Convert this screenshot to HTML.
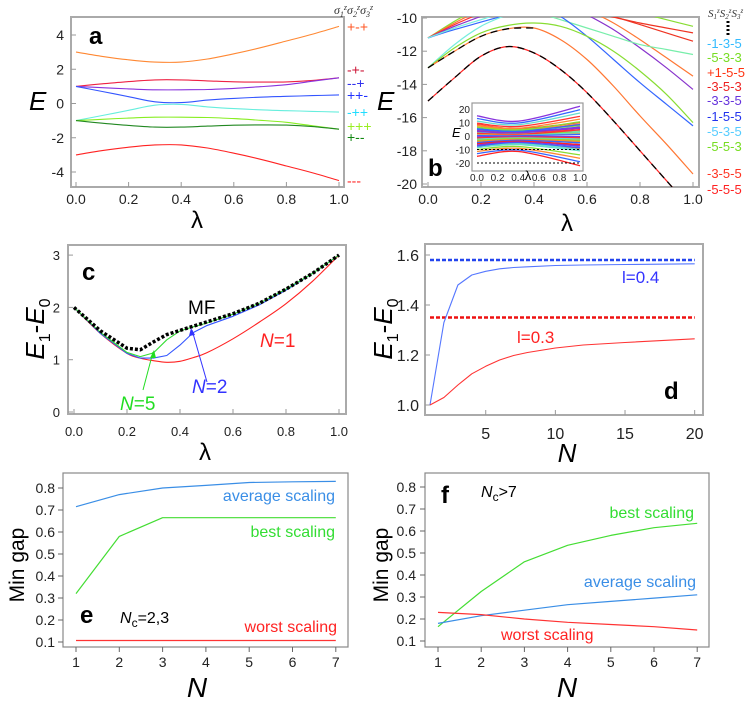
<!DOCTYPE html>
<html><head><meta charset="utf-8">
<style>
html,body{margin:0;padding:0;background:#fff;}
svg{display:block;font-family:"Liberation Sans",sans-serif;}
</style></head>
<body>
<svg id="fig" width="748" height="703" viewBox="0 0 748 703" xmlns="http://www.w3.org/2000/svg">
<defs>
<clipPath id="clipA"><rect x="71" y="17" width="273" height="170"/></clipPath>
<clipPath id="clipB"><rect x="422" y="17" width="277" height="170"/></clipPath>
<clipPath id="clipI"><rect x="472" y="103" width="111" height="68"/></clipPath>
<clipPath id="clipC"><rect x="68" y="245" width="278" height="169"/></clipPath>
<clipPath id="clipD"><rect x="425" y="244" width="278" height="171"/></clipPath>
</defs>
<rect x="71" y="17" width="273" height="170" fill="none" stroke="#aaa" stroke-width="2"/>
<rect x="422" y="17" width="277" height="170" fill="none" stroke="#aaa" stroke-width="2"/>
<rect x="68" y="245" width="278" height="169" fill="none" stroke="#aaa" stroke-width="2"/>
<rect x="425" y="244" width="278" height="171" fill="none" stroke="#aaa" stroke-width="2"/>
<rect x="63" y="473" width="285" height="174" fill="none" stroke="#888" stroke-width="1.2"/>
<rect x="425" y="473" width="284" height="174" fill="none" stroke="#888" stroke-width="1.2"/>
<g id="layer"></g>
<text x="89" y="44" font-size="24" font-weight="bold">a</text>
<text x="29" y="110" font-size="26" font-style="italic">E</text>
<text x="197" y="228" font-size="24" text-anchor="middle">λ</text>
<text x="334" y="14" font-size="12" font-family="Liberation Serif,serif" font-style="italic" fill="#333">σ<tspan font-size="8" dy="3">1</tspan><tspan font-size="8" dy="-7">z</tspan><tspan dy="4">σ</tspan><tspan font-size="8" dy="3">2</tspan><tspan font-size="8" dy="-7">z</tspan><tspan dy="4">σ</tspan><tspan font-size="8" dy="3">3</tspan><tspan font-size="8" dy="-7">z</tspan></text>
<text x="428" y="176" font-size="24" font-weight="bold">b</text>
<text x="377" y="110" font-size="26" font-style="italic">E</text>
<text x="567" y="231" font-size="24" text-anchor="middle">λ</text>
<text x="708" y="17" font-size="11" font-family="Liberation Serif,serif" font-style="italic" fill="#333">S<tspan font-size="7" dy="2">1</tspan><tspan font-size="7" dy="-6">z</tspan><tspan dy="4">S</tspan><tspan font-size="7" dy="2">2</tspan><tspan font-size="7" dy="-6">z</tspan><tspan dy="4">S</tspan><tspan font-size="7" dy="2">3</tspan><tspan font-size="7" dy="-6">z</tspan></text>
<line x1="728" y1="21" x2="728" y2="36" stroke="#000" stroke-width="3" stroke-dasharray="2,2"/>
<text x="452" y="137" font-size="13" font-style="italic">E</text>
<text x="528" y="180" font-size="13" text-anchor="middle">λ</text>
<text x="82" y="280" font-size="24" font-weight="bold">c</text>
<text transform="translate(44,329) rotate(-90)" font-size="26" text-anchor="middle"><tspan font-style="italic">E</tspan><tspan font-size="16" dy="6">1</tspan><tspan dy="-6">-</tspan><tspan font-style="italic">E</tspan><tspan font-size="16" dy="6">0</tspan></text>
<text x="205" y="460" font-size="24" text-anchor="middle">λ</text>
<text x="188" y="314" font-size="19">MF</text>
<text x="260" y="347" font-size="19" fill="#f22"><tspan font-style="italic">N</tspan>=1</text>
<text x="192" y="393" font-size="19" fill="#33f"><tspan font-style="italic">N</tspan>=2</text>
<text x="120" y="410" font-size="19" fill="#2d2"><tspan font-style="italic">N</tspan>=5</text>
<line x1="143" y1="390" x2="153" y2="352" stroke="#2d2" stroke-width="1"/>
<polygon points="154,350 150,358 156,358" fill="#2d2"/>
<line x1="207" y1="382" x2="192" y2="330" stroke="#33f" stroke-width="1"/>
<polygon points="191,328 189,336 195,335" fill="#33f"/>
<text x="664" y="399" font-size="24" font-weight="bold">d</text>
<text transform="translate(392,329) rotate(-90)" font-size="26" text-anchor="middle"><tspan font-style="italic">E</tspan><tspan font-size="16" dy="6">1</tspan><tspan dy="-6">-</tspan><tspan font-style="italic">E</tspan><tspan font-size="16" dy="6">0</tspan></text>
<text x="567" y="462" font-size="26" font-style="italic" text-anchor="middle">N</text>
<text x="622" y="283" font-size="17" fill="#33f">l=0.4</text>
<text x="517" y="343" font-size="17" fill="#f22">l=0.3</text>
<text x="80" y="623" font-size="24" font-weight="bold">e</text>
<text x="120" y="623" font-size="16"><tspan font-style="italic">N</tspan><tspan font-size="12" dy="4">c</tspan><tspan dy="-4">=2,3</tspan></text>
<text transform="translate(24,565) rotate(-90)" font-size="21" text-anchor="middle">Min gap</text>
<text x="197" y="697" font-size="28" font-style="italic" text-anchor="middle">N</text>
<text x="335" y="501" font-size="16" fill="#3a8ee6" text-anchor="end">average scaling</text>
<text x="335" y="537" font-size="16" fill="#3d3" text-anchor="end">best scaling</text>
<text x="337" y="632" font-size="16" fill="#f22" text-anchor="end">worst scaling</text>
<text x="441" y="503" font-size="24" font-weight="bold">f</text>
<text x="481" y="497" font-size="16"><tspan font-style="italic">N</tspan><tspan font-size="12" dy="4">c</tspan><tspan dy="-4">&gt;7</tspan></text>
<text transform="translate(388,565) rotate(-90)" font-size="21" text-anchor="middle">Min gap</text>
<text x="567" y="697" font-size="28" font-style="italic" text-anchor="middle">N</text>
<text x="694" y="518" font-size="16" fill="#3d3" text-anchor="end">best scaling</text>
<text x="696" y="587" font-size="16" fill="#3a8ee6" text-anchor="end">average scaling</text>
<text x="501" y="640" font-size="16" fill="#f22">worst scaling</text>
</svg>
<script>
const lamGrid = [0,0.1,0.2,0.3,0.4,0.5,0.6,0.7,0.8,0.9,1.0];
const aColors = ['#ff8833','#ee2244','#8833dd','#3355ff','#66eedd','#88ee22','#228822','#ff2222'];
const aOrange = [3,2.75,2.55,2.42,2.42,2.6,2.9,3.25,3.65,4.05,4.5];
const aRedTop = [1,1.15,1.28,1.38,1.38,1.32,1.27,1.25,1.26,1.35,1.5];
const aPurple = [1,0.92,0.85,0.8,0.8,0.82,0.88,0.98,1.1,1.3,1.5];
const aBlue = [1,0.7,0.4,0.1,0.05,0.2,0.3,0.37,0.42,0.46,0.5];
const aCyan = [-1,-0.7,-0.4,-0.1,-0.05,-0.2,-0.3,-0.37,-0.42,-0.46,-0.5];
const aLGreen = [-1,-0.92,-0.85,-0.8,-0.8,-0.82,-0.88,-0.98,-1.1,-1.3,-1.5];
const aDGreen = [-1,-1.15,-1.28,-1.38,-1.38,-1.32,-1.27,-1.25,-1.26,-1.35,-1.5];
const aRedBot = [-3,-2.75,-2.55,-2.42,-2.42,-2.6,-2.9,-3.25,-3.65,-4.05,-4.5];
const aSeries = [aOrange,aRedTop,aPurple,aBlue,aCyan,aLGreen,aDGreen,aRedBot];
const aLegend = ['+-+','-+-','--+','++-','-++','+++','+--','---'];
const aLegendColors = ['#ff5522','#cc1133','#3333ee','#2233ff','#22ddff','#99ee22','#118811','#ff2222'];
const aLegendE = [4.5,2,1.2,0.5,-0.5,-1.3,-1.95,-4.5];
const aYTicks = [4,2,0,-2,-4];
const aXTicks = [0,0.2,0.4,0.6,0.8,1.0];
const bGround = [-15,-13.6,-12.3,-11.72,-12.1,-13.1,-14.5,-16.2,-18.0,-19.8,-21.6];
const bSecond = [-13,-12.0,-11.1,-10.65,-10.6,-11.3,-12.5,-14.1,-15.9,-17.6,-19.4];
const bGreen = [-13,-11.8,-10.9,-10.45,-10.3,-10.5,-11.1,-12.0,-13.2,-14.6,-16.3];
const bCyanLow = [-13,-11.6,-10.5,-9.8,null,null,null,null,null,null,null];
const bFanCyan = [-11.2,-10.6,-10.1,-9.6,null,null,null,null,null,null,null];
const bFanBlue = [-11.2,-10.7,-10.25,-9.8,null,null,null,null,null,null,null];
const bFanPurple = [-11.2,-10.5,-9.9,null,null,null,null,null,null,null,null];
const bFanRed = [-11.2,-10.4,-9.7,null,null,null,null,null,null,null,null];
const bFanOrange = [-11.2,-10.3,-9.5,null,null,null,null,null,null,null,null];
const bFanGreen = [-11.2,-10.2,-9.3,null,null,null,null,null,null,null,null];
const bRBlue = [null,null,null,null,-9.0,-9.9,-11.1,-12.5,-13.9,-15.2,-16.5];
const bRCyan = [null,null,null,null,-9.6,-10.1,-10.6,-11.1,-11.6,-11.9,-12.2];
const bRPurple = [null,null,null,null,null,-9.0,-9.8,-10.7,-11.8,-13.0,-14.3];
const bROrange = [null,null,null,null,null,-8.8,-9.5,-10.3,-11.3,-12.4,-13.5];
const bRRed = [null,null,null,null,null,null,-9.6,-9.95,-10.3,-10.6,-10.9];
const bRRed2 = [null,null,null,null,null,null,-9.4,-9.9,-10.4,-10.9,-11.4];
const bRGreen = [null,null,null,null,null,null,null,-9.3,-9.7,-10.1,-10.5];
const bSeries = [bFanGreen,bFanOrange,bFanRed,bFanPurple,bFanBlue,bFanCyan,bCyanLow,bRGreen,bRRed,bRRed2,bROrange,bRPurple,bRCyan,bRBlue,bGreen,bSecond,bGround];
const bColors = ['#88dd33','#ff7733','#ff3333','#8833cc','#3366ff','#77eedd','#77eedd','#88dd33','#ee3322','#ee3322','#ff7733','#8833cc','#77eeaa','#3366ff','#88dd33','#ff7733','#ff2222'];
const bDashGround = [-15,-13.6,-12.3,-11.72,-12.1,-13.1,-14.5,-16.2,-18.0,-19.8,-21.6];
const bDashSecond = [-13,-12.0,-11.1,-10.65,-10.6,null,null,null,null,null,null];
const bLegend = ['-1-3-5','-5-3-3','+1-5-5','-3-5-3','-3-3-5','-1-5-5','-5-3-5','-5-5-3','-3-5-5','-5-5-5'];
const bLegendColors = ['#33bbff','#77dd22','#ff3311','#ee2222','#6633dd','#2233ee','#55ccff','#77dd22','#ff3322','#ff2222'];
const bLegendY = [43,57,72,86,100,116,131,146,173,189];
const bYTicks = [-10,-12,-14,-16,-18,-20];
const bXTicks = [0,0.2,0.4,0.6,0.8,1.0];
const insStart = [15,13,11,9.5,8,6.5,5,3.5,2,0.5,-1,-2.5,-4,-5.5,-7,-8.5,-10,-11.5,-13,-15];
const insMid = [11,9.6,8.3,7,5.8,4.6,3.4,2.3,1.2,0.3,-0.6,-1.7,-2.8,-4,-5.2,-6.4,-7.8,-9.1,-10.4,-11.5];
const insEnd = [22,19.5,17,14.5,12.5,10.5,8.5,6.5,4.5,2.5,-1,-3,-5,-7,-9,-11,-14,-16.5,-19,-22];
const insColors = ['#8833dd','#3366ff','#66ddcc','#ff3333','#ff8833','#88dd33','#3366ff','#8833dd','#ff3333','#66ddcc','#88dd33','#ff8833','#3366ff','#8833dd','#ff3333','#66ddcc','#88dd33','#ff8833','#3366ff','#ff2222'];
const insYTicks = [20,10,0,-10,-20];
const insXTicks = [0,0.2,0.4,0.6,0.8,1.0];
const cLam = [0,0.1,0.2,0.25,0.3,0.35,0.4,0.45,0.5,0.6,0.7,0.8,0.9,1.0];
const cN1 = [2,1.5,1.12,1.03,0.98,0.95,0.97,1.04,1.13,1.4,1.72,2.07,2.5,3];
const cN2 = [2,1.5,1.12,1.03,1.03,1.08,1.28,1.52,1.65,1.83,2.05,2.33,2.65,3];
const cN5 = [2,1.52,1.14,1.06,1.13,1.38,1.55,1.63,1.7,1.87,2.08,2.35,2.65,3];
const cMF = [2,1.55,1.22,1.19,1.34,1.48,1.56,1.64,1.72,1.88,2.08,2.35,2.65,3];
const cYTicks = [0,1,2,3];
const cXTicks = [0,0.2,0.4,0.6,0.8,1.0];
const dN = [1,2,3,4,5,6,7,8,10,12,15,20];
const dBlue = [1.0,1.33,1.48,1.52,1.535,1.545,1.55,1.553,1.558,1.56,1.562,1.565];
const dRed = [1.0,1.03,1.08,1.125,1.155,1.18,1.198,1.21,1.228,1.24,1.25,1.265];
const dBlueLimit = 1.58;
const dRedLimit = 1.35;
const dYTicks = [1.0,1.2,1.4,1.6];
const dXTicks = [5,10,15,20];
const eN = [1,2,3,4,5,6,7];
const eAvg = [0.715,0.77,0.80,0.812,0.825,0.828,0.83];
const eBest = [0.32,0.58,0.665,0.665,0.665,0.665,0.665];
const eWorst = [0.107,0.107,0.107,0.107,0.107,0.107,0.107];
const fN = [1,2,3,4,5,6,7];
const fBest = [0.165,0.325,0.46,0.535,0.58,0.615,0.635];
const fAvg = [0.18,0.215,0.24,0.265,0.28,0.295,0.31];
const fWorst = [0.23,0.22,0.2,0.185,0.175,0.165,0.15];
const efYTicks = [0.1,0.2,0.3,0.4,0.5,0.6,0.7,0.8];
const efXTicks = [1,2,3,4,5,6,7];

const NS = 'http://www.w3.org/2000/svg';
const layer = document.getElementById('layer');
const xA = v => 76 + v*263, yA = v => 103.5 - v*17.125;
const xB = v => 428 + v*265, yB = v => 18 + (-10 - v)*16.6;
const xI = v => 477 + v*103, yI = v => 136 - v*1.35;
const xC = v => 74 + v*265, yC = v => 412 - v*52.3;
const xD = v => 430 + (v-1)*13.93, yD = v => 405 - (v-1)*250;
const xE = v => 76 + (v-1)*43.3, yE = v => 642 - (v-0.1)*220;
const xF = v => 438 + (v-1)*43.2, yF = v => 641 - (v-0.1)*220;

function mk(tag, parent){ const e = document.createElementNS(NS, tag); (parent||layer).appendChild(e); return e; }
function pathD(xs, ys, X, Y, smooth){
  // split into runs of non-null points
  const runs = []; let cur = [];
  for (let i=0;i<xs.length;i++){
    if (ys[i]===null){ if (cur.length) runs.push(cur); cur=[]; continue; }
    cur.push([X(xs[i]), Y(ys[i])]);
  }
  if (cur.length) runs.push(cur);
  let d = '';
  runs.forEach(p => {
    d += 'M' + p[0][0].toFixed(1) + ',' + p[0][1].toFixed(1);
    for (let i=1;i<p.length;i++){
      if (!smooth){ d += 'L' + p[i][0].toFixed(1) + ',' + p[i][1].toFixed(1); continue; }
      const p0 = p[i-2] || p[i-1], p1 = p[i-1], p2 = p[i], p3 = p[i+1] || p[i];
      const c1x = p1[0] + (p2[0]-p0[0])/6, c1y = p1[1] + (p2[1]-p0[1])/6;
      const c2x = p2[0] - (p3[0]-p1[0])/6, c2y = p2[1] - (p3[1]-p1[1])/6;
      d += 'C' + c1x.toFixed(1)+','+c1y.toFixed(1)+' '+c2x.toFixed(1)+','+c2y.toFixed(1)+' '+p2[0].toFixed(1)+','+p2[1].toFixed(1);
    }
  });
  return d;
}
function series(xs, ys, X, Y, color, w, clip, name, dash, smooth){
  const p = mk('path');
  
  
  p.setAttribute('d', pathD(xs, ys, X, Y, smooth));
  p.setAttribute('fill', 'none');
  p.setAttribute('stroke', color);
  p.setAttribute('stroke-width', w);
  p.setAttribute('stroke-linejoin', 'round');
  if (dash) p.setAttribute('stroke-dasharray', dash);
  if (clip) p.setAttribute('clip-path', 'url(#' + clip + ')');
  return p;
}
function label(x, y, txt, size, anchor, color, name){
  const t = mk('text');
  
  
  t.setAttribute('x', x); t.setAttribute('y', y);
  t.setAttribute('font-size', size);
  t.setAttribute('text-anchor', anchor);
  t.setAttribute('fill', color);
  t.textContent = txt;
  return t;
}
function tick(x1,y1,x2,y2,color,name){
  const l = mk('line');
  
  
  l.setAttribute('x1',x1); l.setAttribute('y1',y1); l.setAttribute('x2',x2); l.setAttribute('y2',y2);
  l.setAttribute('stroke', color); l.setAttribute('stroke-width', 1);
}
const f1 = v => v.toFixed(1);

aYTicks.forEach(v => { label(64, yA(v)+5, String(v), 14, 'end', '#222', 'a-y-tick-label'); tick(71, yA(v), 76, yA(v), '#999', 'a-y-tick'); });
aXTicks.forEach(v => { label(xA(v), 204, f1(v), 14, 'middle', '#222', 'a-x-tick-label'); tick(xA(v), 187, xA(v), 182, '#999', 'a-x-tick'); });
aSeries.forEach((s,i) => series(lamGrid, s, xA, yA, aColors[i], 1.1, 'clipA', 'a-level-' + i, null, true));
aLegend.forEach((t,i) => label(347, yA(aLegendE[i])+5, t, 14, 'start', aLegendColors[i], 'a-legend-entry'));

bYTicks.forEach(v => { label(417, yB(v)+5, String(v), 14, 'end', '#222', 'b-y-tick-label'); tick(422, yB(v), 427, yB(v), '#999', 'b-y-tick'); });
bXTicks.forEach(v => { label(xB(v), 204, f1(v), 14, 'middle', '#222', 'b-x-tick-label'); tick(xB(v), 187, xB(v), 182, '#999', 'b-x-tick'); });
bSeries.forEach((s,i) => series(lamGrid, s, xB, yB, bColors[i], 1.2, 'clipB', 'b-level-' + i, null, true));
series(lamGrid, bDashGround, xB, yB, '#000', 1.3, 'clipB', 'b-ground-meanfield-dash', '7,5', true);
series(lamGrid, bDashSecond, xB, yB, '#000', 1.3, 'clipB', 'b-second-meanfield-dash', '7,5', true);
bLegend.forEach((t,i) => label(707, bLegendY[i]+5, t, 13, 'start', bLegendColors[i], 'b-legend-entry'));

const ins = mk('rect');


ins.setAttribute('x', 472); ins.setAttribute('y', 103); ins.setAttribute('width', 111); ins.setAttribute('height', 68);
ins.setAttribute('fill', '#fff'); ins.setAttribute('stroke', '#999'); ins.setAttribute('stroke-width', 1.2);
insStart.forEach((s,i) => {
  series([0,0.4,1], [s, insMid[i], insEnd[i]], xI, yI, insColors[i], 1.3, 'clipI', 'inset-level-' + i, null, true);
  series([0,0.4,1], [s*0.5+insMid[i]*0.1, insMid[i]*0.5, insEnd[i]*0.45], xI, yI, insColors[(i+3)%insColors.length], 1.3, 'clipI', 'inset-inner-level-' + i, null, true);
});
series([0,1],[-10,-10], xI, yI, '#000', 1, 'clipI', 'inset-dash-minus10', '2,2');
series([0,1],[-20,-20], xI, yI, '#000', 1, 'clipI', 'inset-dash-minus20', '2,2');
insYTicks.forEach(v => label(470, yI(v)+4, String(v), 10, 'end', '#222', 'inset-y-tick-label'));
insXTicks.forEach(v => label(xI(v), 181, f1(v), 10, 'middle', '#222', 'inset-x-tick-label'));

cYTicks.forEach(v => { label(60, yC(v)+5, String(v), 13, 'end', '#222', 'c-y-tick-label'); tick(68, yC(v), 73, yC(v), '#999', 'c-y-tick'); });
cXTicks.forEach(v => { label(xC(v), 436, f1(v), 13, 'middle', '#222', 'c-x-tick-label'); tick(xC(v), 414, xC(v), 409, '#999', 'c-x-tick'); });
series(cLam, cN1, xC, yC, '#ff2222', 1.1, 'clipC', 'c-line-n1', null, true);
series(cLam, cN2, xC, yC, '#3355ff', 1.1, 'clipC', 'c-line-n2');
series(cLam, cN5, xC, yC, '#33dd33', 1.1, 'clipC', 'c-line-n5');
series(cLam, cMF, xC, yC, '#000', 3.5, 'clipC', 'c-line-mf', '3,2');

dYTicks.forEach(v => { label(419, yD(v)+6, f1(v), 16, 'end', '#222', 'd-y-tick-label'); tick(425, yD(v), 430, yD(v), '#999', 'd-y-tick'); });
dXTicks.forEach(v => { label(xD(v), 439, String(v), 16, 'middle', '#222', 'd-x-tick-label'); tick(xD(v), 415, xD(v), 410, '#999', 'd-x-tick'); });
series([1,20],[dBlueLimit,dBlueLimit], xD, yD, '#2244ee', 2.5, 'clipD', 'd-limit-l04', '4,2');
series([1,20],[dRedLimit,dRedLimit], xD, yD, '#ee1111', 2.5, 'clipD', 'd-limit-l03', '4,2');
series(dN, dBlue, xD, yD, '#5577ff', 1.1, 'clipD', 'd-line-l04');
series(dN, dRed, xD, yD, '#ff3333', 1.1, 'clipD', 'd-line-l03');

efYTicks.forEach(v => { label(55, yE(v)+5, f1(v), 14, 'end', '#222', 'e-y-tick-label'); tick(58, yE(v), 63, yE(v), '#666', 'e-y-tick'); });
efXTicks.forEach(v => { label(xE(v), 667, String(v), 14, 'middle', '#222', 'e-x-tick-label'); tick(xE(v), 647, xE(v), 652, '#666', 'e-x-tick'); });
series(eN, eAvg, xE, yE, '#3a8ee6', 1.2, null, 'e-line-average');
series(eN, eBest, xE, yE, '#44dd33', 1.2, null, 'e-line-best');
series(eN, eWorst, xE, yE, '#ff3333', 1.2, null, 'e-line-worst');

efYTicks.forEach(v => { label(416, yF(v)+5, f1(v), 14, 'end', '#222', 'f-y-tick-label'); tick(420, yF(v), 425, yF(v), '#666', 'f-y-tick'); });
efXTicks.forEach(v => { label(xF(v), 667, String(v), 14, 'middle', '#222', 'f-x-tick-label'); tick(xF(v), 647, xF(v), 652, '#666', 'f-x-tick'); });
series(fN, fBest, xF, yF, '#44dd33', 1.2, null, 'f-line-best');
series(fN, fAvg, xF, yF, '#3a8ee6', 1.2, null, 'f-line-average');
series(fN, fWorst, xF, yF, '#ff3333', 1.2, null, 'f-line-worst');
</script>
</body></html>
